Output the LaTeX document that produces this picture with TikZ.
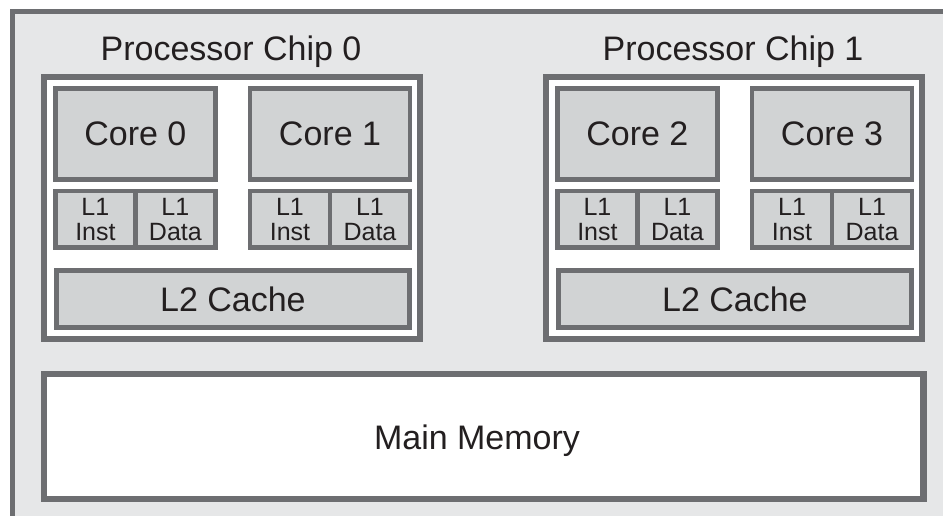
\documentclass[tikz,border=0pt]{standalone}
\usepackage{fontspec}
\setmainfont{Liberation Sans}
\definecolor{framebg}{HTML}{E6E7E8}
\definecolor{edge}{HTML}{6D6E71}
\definecolor{unitfill}{HTML}{D1D3D4}
\definecolor{ink}{HTML}{231F20}
\tikzset{
  chipbox/.style={draw=edge, line width=6.5pt, fill=white, inner sep=0pt},
  unitbox/.style={draw=edge, line width=4.5pt, fill=unitfill, inner sep=0pt,
    text=ink, font=\fontsize{34}{34}\selectfont},
  cachebox/.style={draw=edge, line width=4.5pt, fill=unitfill, inner sep=0pt,
    text=ink, align=center, font=\fontsize{25}{25}\selectfont,
    minimum width=80pt, minimum height=56.7pt},
  chiplabel/.style={anchor=base, text=ink, inner sep=0pt,
    font=\fontsize{34}{34}\selectfont},
}
\begin{document}
\begin{tikzpicture}[x=1pt, y=-1pt]
  \clip (0,0) rectangle (943,516);
  % outer enclosure (continues past the right and bottom edges)
  \draw[draw=edge, line width=5pt, fill=framebg] (12,12) rectangle (980,560);

  % two processor chips, identical apart from a horizontal shift
  \foreach \dx/\c/\a/\b in {0/0/0/1, 502/1/2/3} {
    \node[chipbox, minimum width=376pt, minimum height=261.7pt]
      (chip\c) at (232+\dx, 207.9) {};
    \node[chiplabel] (chiplabel\c) at (231+\dx, 61) {Processor Chip \c};
    % cores
    \node[unitbox, minimum width=160pt, minimum height=91.4pt]
      (core\a) at (135.4+\dx, 134) {Core \a};
    \node[unitbox, minimum width=160pt, minimum height=91.4pt]
      (core\b) at (330+\dx, 134) {Core \b};
    % private L1 caches
    \node[cachebox] (inst\a) at (95.4+\dx, 219.3) {L1\\Inst};
    \node[cachebox] (data\a) at (175.4+\dx, 219.3) {L1\\Data};
    \node[cachebox] (inst\b) at (290+\dx, 219.3) {L1\\Inst};
    \node[cachebox] (data\b) at (370+\dx, 219.3) {L1\\Data};
    % shared L2 cache
    \node[unitbox, minimum width=353pt, minimum height=57.4pt]
      (ltwo\c) at (232.9+\dx, 299) {L2 Cache};
  }

  % main memory
  \node[chipbox, minimum width=879.5pt, minimum height=125pt] (mem) at (483.75, 436.5) {};
  \node[chiplabel] (memlabel) at (477, 449.5) {Main Memory};
\end{tikzpicture}
\end{document}
